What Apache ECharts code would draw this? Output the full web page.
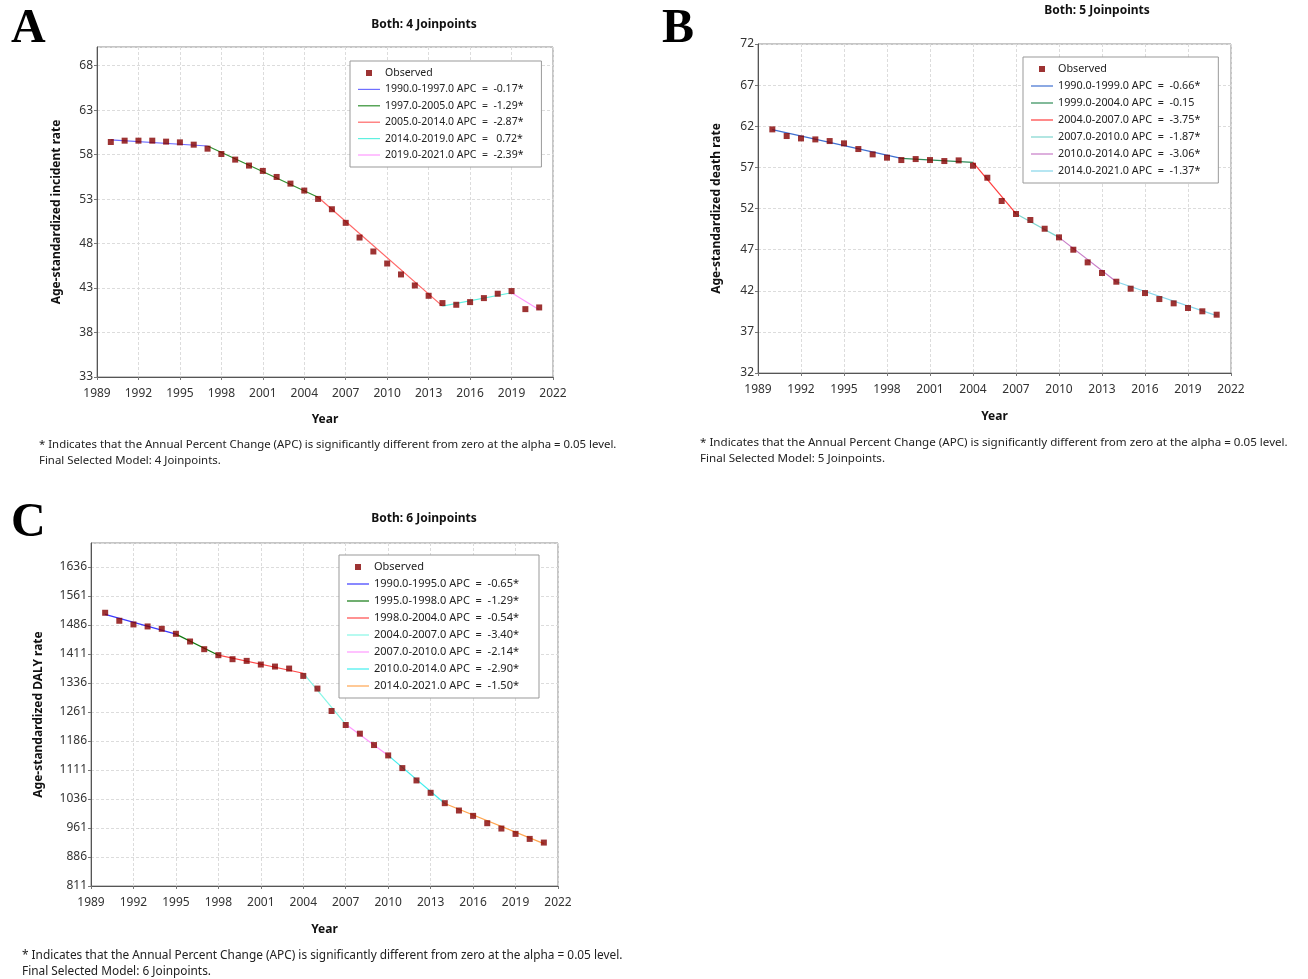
<!DOCTYPE html>
<html>
<head>
<meta charset="utf-8">
<script src="https://cdn.jsdelivr.net/npm/echarts@6/dist/echarts.min.js"></script>
<style>
html,body{margin:0;padding:0;background:#fff;}
#chart{width:1308px;height:979px;}
</style>
</head>
<body>
<div id="chart"></div>
<script>
// ---------- data ----------
const years = [1990,1991,1992,1993,1994,1995,1996,1997,1998,1999,2000,2001,2002,2003,2004,2005,2006,2007,2008,2009,2010,2011,2012,2013,2014,2015,2016,2017,2018,2019,2020,2021];
const xTicks = [1989,1992,1995,1998,2001,2004,2007,2010,2013,2016,2019,2022];

// Panel A: incidence
const incObserved = [59.42,59.57,59.57,59.57,59.46,59.38,59.12,58.67,58.07,57.44,56.77,56.17,55.49,54.74,53.96,53.02,51.86,50.33,48.68,47.11,45.76,44.53,43.29,42.13,41.31,41.12,41.42,41.87,42.36,42.66,40.63,40.82];
const incJoinYears = [1990,1997,2005,2014,2019,2021];
const incJoinFit = [59.65,58.97,53.21,40.97,42.47,40.56];
const incSegLabels = ['1990.0-1997.0 APC  =  -0.17*','1997.0-2005.0 APC  =  -1.29*','2005.0-2014.0 APC  =  -2.87*','2014.0-2019.0 APC  =   0.72*','2019.0-2021.0 APC  =  -2.39*'];
const incYTicks = [33,38,43,48,53,58,63,68];

// Panel B: death
const deathObserved = [61.62,60.81,60.52,60.40,60.20,59.92,59.23,58.58,58.18,57.89,58.01,57.89,57.77,57.85,57.20,55.74,52.91,51.33,50.60,49.54,48.49,46.99,45.45,44.16,43.10,42.25,41.72,40.99,40.47,39.90,39.50,39.09];
const deathJoinYears = [1990,1999,2004,2007,2010,2014,2021];
const deathJoinFit = [61.58,58.09,57.61,51.37,48.49,43.10,38.97];
const deathSegLabels = ['1990.0-1999.0 APC  =  -0.66*','1999.0-2004.0 APC  =  -0.15','2004.0-2007.0 APC  =  -3.75*','2007.0-2010.0 APC  =  -1.87*','2010.0-2014.0 APC  =  -3.06*','2014.0-2021.0 APC  =  -1.37*'];
const deathYTicks = [32,37,42,47,52,57,62,67,72];

// Panel C: DALY
const dalyObserved = [1517.6,1496.9,1487.4,1482.2,1476.1,1463.2,1443.3,1423.4,1407.9,1397.5,1393.2,1383.7,1378.5,1373.3,1354.3,1321.5,1263.6,1227.4,1204.9,1175.5,1148.7,1115.9,1084.0,1052.0,1025.2,1006.2,992.4,973.4,959.6,945.8,932.8,923.3];
const dalyJoinYears = [1990,1995,1998,2004,2007,2010,2014,2021];
const dalyJoinFit = [1513.3,1462.3,1407.9,1361.2,1229.1,1148.7,1024.4,920.7];
const dalySegLabels = ['1990.0-1995.0 APC  =  -0.65*','1995.0-1998.0 APC  =  -1.29*','1998.0-2004.0 APC  =  -0.54*','2004.0-2007.0 APC  =  -3.40*','2007.0-2010.0 APC  =  -2.14*','2010.0-2014.0 APC  =  -2.90*','2014.0-2021.0 APC  =  -1.50*'];
const dalyYTicks = [811,886,961,1036,1111,1186,1261,1336,1411,1486,1561,1636];

const titles = ['Both: 4 Joinpoints','Both: 5 Joinpoints','Both: 6 Joinpoints'];
const yNames = ['Age-standardized incident rate','Age-standardized death rate','Age-standardized DALY rate'];
const footLine1 = '* Indicates that the Annual Percent Change (APC) is significantly different from zero at the alpha = 0.05 level.';
const footLine2 = ['Final Selected Model: 4 Joinpoints.','Final Selected Model: 5 Joinpoints.','Final Selected Model: 6 Joinpoints.'];

// ---------- styles ----------
const FONT = '"Noto Sans", "Open Sans", sans-serif';
const incColors = ['#6f6fff','#2f8f2f','#ff6666','#5ff0e0','#ff99ff'];
const deathColors = ['#3f6fd0','#2e8b57','#ff3b3b','#7fd6cf','#c77cc7','#86d6ea'];
const dalyColors = ['#3a3aff','#107810','#ff4848','#86f6e6','#ff99ff','#40eeee','#ffa54f'];

const panels = [
  {obs: incObserved, jx: incJoinYears, jy: incJoinFit, labels: incSegLabels, colors: incColors, yt: incYTicks, ymax: 70.1,
   grid:{left:97, top:47, width:456, height:330}, yNameGap:34, xNameGap:37, legend:{left:350, top:61, gap:2.4, font:10.5, padR:18}},
  {obs: deathObserved, jx: deathJoinYears, jy: deathJoinFit, labels: deathSegLabels, colors: deathColors, yt: deathYTicks, ymax: 72,
   grid:{left:758, top:44, width:473, height:329}, yNameGap:35, xNameGap:38, legend:{left:1023, top:57, gap:3, font:10.8, padR:18}},
  {obs: dalyObserved, jx: dalyJoinYears, jy: dalyJoinFit, labels: dalySegLabels, colors: dalyColors, yt: dalyYTicks, ymax: 1698,
   grid:{left:91, top:543, width:467, height:343}, yNameGap:46, xNameGap:38, legend:{left:339, top:555, gap:3, font:11, padR:20}}
];

const LINE_ICON = 'path://M0,0h22v1.2h-22z';
const DOT_ICON = 'path://M0,0h6v6h-6z';

const grids = [], xAxes = [], yAxes = [], series = [], legends = [];
panels.forEach((p, i) => {
  grids.push(Object.assign({show:true, borderColor:'#8c8c8c', borderWidth:1, containLabel:false}, p.grid));
  xAxes.push({
    type:'value', gridIndex:i, min:xTicks[0], max:xTicks[xTicks.length-1], interval:xTicks[1]-xTicks[0],
    name:'Year', nameLocation:'middle', nameGap:p.xNameGap,
    nameTextStyle:{fontFamily:FONT, fontWeight:'bold', fontSize:12, color:'#111'},
    axisLine:{show:true, onZero:false, lineStyle:{color:'#555', width:1}},
    axisTick:{show:true, length:3, lineStyle:{color:'#777'}},
    axisLabel:{fontFamily:FONT, fontSize:12, color:'#333', margin:11, formatter: v => String(v)},
    splitLine:{show:true, lineStyle:{color:'#dcdcdc', type:[3,2], width:1}}
  });
  yAxes.push({
    type:'value', gridIndex:i, min:p.yt[0], max:p.ymax, interval:p.yt[1]-p.yt[0],
    name:yNames[i], nameLocation:'middle', nameGap:p.yNameGap, nameRotate:90,
    nameTextStyle:{fontFamily:FONT, fontWeight:'bold', fontSize:12, color:'#111'},
    axisLine:{show:true, onZero:false, lineStyle:{color:'#555', width:1}},
    axisTick:{show:true, length:3, lineStyle:{color:'#777'}},
    axisLabel:{fontFamily:FONT, fontSize:12, color:'#333', margin:4, formatter: v => String(v),
               showMaxLabel: p.ymax === p.yt[p.yt.length-1]},
    splitLine:{show:true, lineStyle:{color:'#dcdcdc', type:[3,2], width:1}}
  });
  for (let s = 0; s < p.labels.length; s++) {
    series.push({
      type:'line', name:p.labels[s], xAxisIndex:i, yAxisIndex:i,
      data:[[p.jx[s], p.jy[s]], [p.jx[s+1], p.jy[s+1]]],
      symbol:'none', lineStyle:{color:p.colors[s], width:1.2}, itemStyle:{color:p.colors[s]},
      z:2, silent:true, animation:false
    });
  }
  series.push({
    type:'scatter', name:'Observed', xAxisIndex:i, yAxisIndex:i,
    data: years.map((y, k) => [y, p.obs[k]]),
    symbol:'rect', symbolSize:6, itemStyle:{color:'#840000'},
    z:5, silent:true, animation:false
  });
  legends.push({
    orient:'vertical', left:p.legend.left, top:p.legend.top,
    data:[{name:'Observed', icon:DOT_ICON}].concat(p.labels.map(n => ({name:n, icon:LINE_ICON}))),
    itemWidth:22, itemHeight:6, itemGap:p.legend.gap, symbolKeepAspect:true,
    itemStyle:{borderWidth:0},
    padding:[5,p.legend.padR,5,8], borderColor:'#999', borderWidth:1, backgroundColor:'#fff',
    selectedMode:false,
    textStyle:{fontFamily:FONT, fontSize:p.legend.font, color:'#222', lineHeight:14}
  });
});

const graphics = [
  {type:'text', left:11, top:6, style:{text:'A', font:'bold 48px "Liberation Serif", "DejaVu Serif", serif', fill:'#000'}},
  {type:'text', left:662, top:6, style:{text:'B', font:'bold 48px "Liberation Serif", "DejaVu Serif", serif', fill:'#000'}},
  {type:'text', left:11, top:500, style:{text:'C', font:'bold 48px "Liberation Serif", "DejaVu Serif", serif', fill:'#000'}},
  {type:'text', x:424, y:25, style:{text:titles[0], font:'bold 12px ' + FONT, fill:'#111', textAlign:'center', textVerticalAlign:'middle'}},
  {type:'text', x:1097, y:11, style:{text:titles[1], font:'bold 12px ' + FONT, fill:'#111', textAlign:'center', textVerticalAlign:'middle'}},
  {type:'text', x:424, y:519, style:{text:titles[2], font:'bold 12px ' + FONT, fill:'#111', textAlign:'center', textVerticalAlign:'middle'}},
  {type:'text', x:39, y:445, style:{text:footLine1, font:'11.4px ' + FONT, fill:'#222', textVerticalAlign:'middle'}},
  {type:'text', x:39, y:461, style:{text:footLine2[0], font:'11.4px ' + FONT, fill:'#222', textVerticalAlign:'middle'}},
  {type:'text', x:700, y:443, style:{text:footLine1, font:'11.6px ' + FONT, fill:'#222', textVerticalAlign:'middle'}},
  {type:'text', x:700, y:459, style:{text:footLine2[1], font:'11.6px ' + FONT, fill:'#222', textVerticalAlign:'middle'}},
  {type:'text', x:22, y:956, style:{text:footLine1, font:'11.85px ' + FONT, fill:'#222', textVerticalAlign:'middle'}},
  {type:'text', x:22, y:972, style:{text:footLine2[2], font:'11.85px ' + FONT, fill:'#222', textVerticalAlign:'middle'}}
];

const chart = echarts.init(document.getElementById('chart'), null, {renderer:'canvas'});
chart.setOption({
  backgroundColor:'#fff',
  animation:false,
  grid:grids, xAxis:xAxes, yAxis:yAxes, series:series, legend:legends, graphic:graphics
});
</script>
</body>
</html>
